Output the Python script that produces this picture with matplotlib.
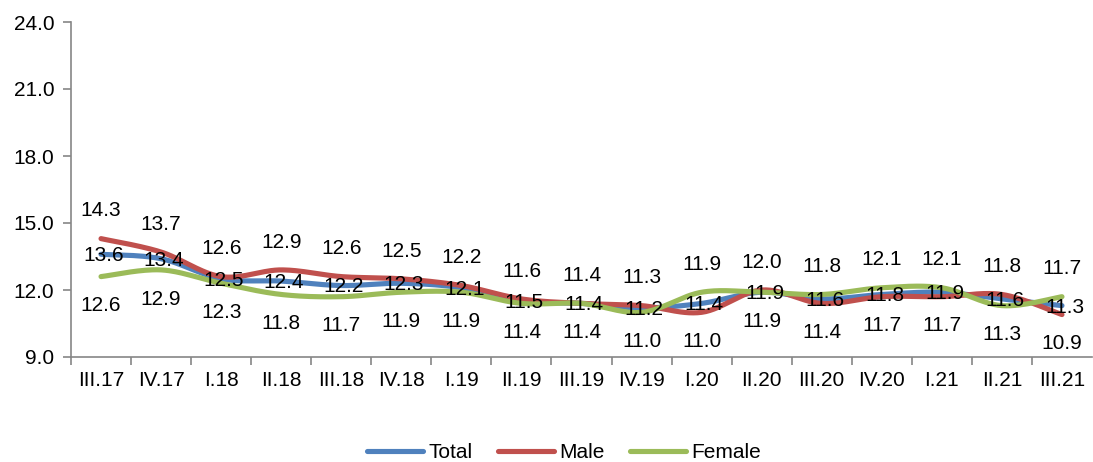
import numpy as np
import matplotlib
matplotlib.use("Agg")
import matplotlib.pyplot as plt
from matplotlib.ticker import FixedLocator, FormatStrFormatter

categories = ['III.17', 'IV.17', 'I.18', 'II.18', 'III.18', 'IV.18', 'I.19', 'II.19',
              'III.19', 'IV.19', 'I.20', 'II.20', 'III.20', 'IV.20', 'I.21', 'II.21', 'III.21']
total = [13.6, 13.4, 12.5, 12.4, 12.2, 12.3, 12.1, 11.5, 11.4, 11.2, 11.4, 11.9, 11.6, 11.8, 11.9, 11.6, 11.3]
male = [14.3, 13.7, 12.6, 12.9, 12.6, 12.5, 12.2, 11.6, 11.4, 11.3, 11.0, 12.0, 11.4, 11.7, 11.7, 11.8, 10.9]
female = [12.6, 12.9, 12.3, 11.8, 11.7, 11.9, 11.9, 11.4, 11.4, 11.0, 11.9, 11.9, 11.8, 12.1, 12.1, 11.3, 11.7]
series_names = ['Total', 'Male', 'Female']
yticks = [9.0, 12.0, 15.0, 18.0, 21.0, 24.0]

colors = ['#4F81BD', '#C0504D', '#9BBB59']

plt.rcParams['font.family'] = ['Liberation Sans', 'DejaVu Sans']
FS = 15


def smooth(xs, ys, n=30):
    """Catmull-Rom style cubic Bezier smoothing (like Excel smoothed lines)."""
    x = np.asarray(xs, float)
    y = np.asarray(ys, float)
    P = np.column_stack([x, y])
    Pext = np.vstack([P[0], P, P[-1]])
    out = []
    t = np.linspace(0, 1, n)[:, None]
    for i in range(len(P) - 1):
        p0, p1, p2, p3 = Pext[i], Pext[i + 1], Pext[i + 2], Pext[i + 3]
        c1 = p1 + (p2 - p0) / 6.0
        c2 = p2 - (p3 - p1) / 6.0
        seg = ((1 - t) ** 3) * p1 + 3 * ((1 - t) ** 2) * t * c1 + 3 * (1 - t) * t ** 2 * c2 + t ** 3 * p2
        out.append(seg if i == 0 else seg[1:])
    arr = np.vstack(out)
    return arr[:, 0], arr[:, 1]


fig = plt.figure(figsize=(10.93, 4.62), dpi=100)
ax = fig.add_axes([71 / 1093, 1 - 357 / 462, (1092 - 71) / 1093, (357 - 22) / 462])

x = np.arange(len(categories))
handles = []
for vals, c, name in zip([total, male, female], colors, series_names):
    sx, sy = smooth(x, vals)
    h, = ax.plot(sx, sy, color=c, lw=3.7, solid_capstyle='round', label=name, zorder=2)
    handles.append(h)

# data labels
for i in range(len(categories)):
    ax.annotate(f"{total[i]:.1f}", (x[i], total[i]), xytext=(2, -1), textcoords='offset points',
                ha='center', va='center', fontsize=FS, color='black', zorder=5)
    if male[i] >= female[i]:
        up, dn = male[i], female[i]
    else:
        up, dn = female[i], male[i]
    ax.annotate(f"{up:.1f}", (x[i], up), xytext=(0, 20), textcoords='offset points',
                ha='center', va='center', fontsize=FS, color='black', zorder=5)
    ax.annotate(f"{dn:.1f}", (x[i], dn), xytext=(0, -21), textcoords='offset points',
                ha='center', va='center', fontsize=FS, color='black', zorder=5)

ax.set_xlim(-0.5, len(categories) - 0.5)
ax.set_ylim(9.0, 24.0)
ax.set_yticks(yticks)
ax.yaxis.set_major_formatter(FormatStrFormatter('%.1f'))
ax.set_xticks(x)
ax.set_xticklabels(categories)
ax.xaxis.set_minor_locator(FixedLocator(np.arange(-0.5, len(categories) - 0.5, 1.0)))
ax.tick_params(axis='x', which='major', length=0, pad=10, labelsize=FS, colors='black')
ax.tick_params(axis='x', which='minor', length=6, width=1.2, color='#868686', direction='out')
ax.tick_params(axis='y', which='major', length=6, width=1.2, color='#868686', labelsize=FS,
               labelcolor='black', pad=6)

for s in ['top', 'right']:
    ax.spines[s].set_visible(False)
for s in ['left', 'bottom']:
    ax.spines[s].set_color('#868686')
    ax.spines[s].set_linewidth(1.2)

fig.legend(handles=handles, loc='center', bbox_to_anchor=(564 / 1093, 1 - 453 / 462),
           ncol=3, frameon=False, fontsize=FS, handlelength=2.7, handletextpad=0.25,
           columnspacing=1.2, borderaxespad=0)

fig.savefig('out.png', dpi=100)
